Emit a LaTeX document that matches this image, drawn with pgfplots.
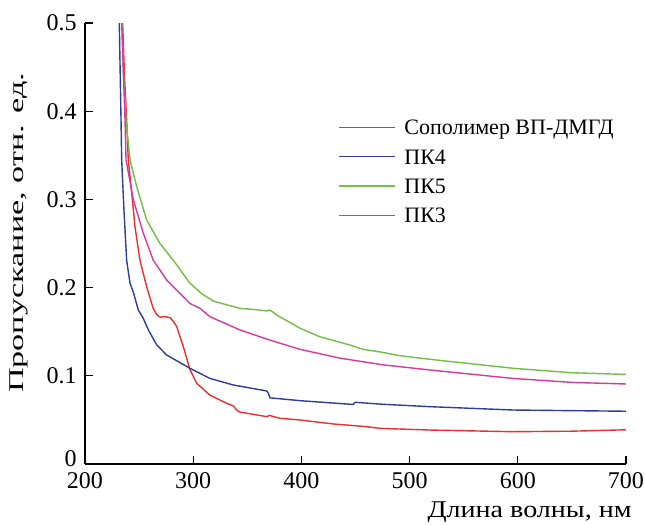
\documentclass[border=0pt]{standalone}
\usepackage{fontspec}
\setmainfont{Liberation Serif}
\usepackage{graphicx}
\usepackage{pgfplots}
\pgfplotsset{compat=1.18}
\definecolor{cred}{HTML}{E8302E}
\definecolor{cblue}{HTML}{2F3C98}
\definecolor{cgreen}{HTML}{72BF44}
\definecolor{cpink}{HTML}{D63A9C}
\begin{document}
\begin{tikzpicture}
\path[use as bounding box] (-42.5pt,-30.5pt) rectangle (280pt,232pt);
\begin{axis}[
  scale only axis,
  width=270.5pt, height=220.5pt,
  xmin=200, xmax=700, ymin=0, ymax=0.5,
  axis lines=left,
  axis line style={-, line width=0.6pt, black},
  tick style={line width=0.6pt, black},
  tick align=inside,
  major tick length=4pt,
  xtick={200,300,400,500,600,700},
  ytick={0.1,0.2,0.3,0.4,0.5},
  extra y ticks={0},
  extra y tick style={yticklabel style={yshift=2.5pt}},
  /pgf/number format/assume math mode=true,
  /pgf/number format/fixed,
  ticklabel style={font=\fontsize{12}{14}\selectfont, inner sep=0pt},
  yticklabel shift=4pt,
  xticklabel shift=4.2pt,
  xlabel={\resizebox{102pt}{\height}{Длина волны, нм}},
  xlabel style={at={(rel axis cs:1,0)}, anchor=base east, inner sep=0pt, xshift=3pt, yshift=-27pt, font=\fontsize{12}{14}\selectfont},
  ylabel={\resizebox{160pt}{\height}{Пропускание, отн. ед.}},
  ylabel style={at={(rel axis cs:0,0.524)}, anchor=center, inner sep=0pt, yshift=33pt, font=\fontsize{10.5}{12}\selectfont},
  legend style={at={(rel axis cs:0.4677,0.787)}, anchor=north west, draw=none, fill=none,
    inner sep=0pt, outer sep=0pt, row sep=4.15pt, column sep=4.5pt,
    font=\fontsize{11}{13}\selectfont,
    nodes={inner sep=0pt, text height=9pt, text depth=1.5pt}},
  legend cell align=left,
  legend image code/.code={\draw[#1, line width=0.7pt] (0pt,0pt) -- (28pt,0pt);},
  every axis plot/.append style={line width=0.7pt},
]
\addplot[cred] coordinates {
(234,0.55) (234.8,0.50) (236.5,0.44) (238.5,0.39) (240,0.345) (243.2,0.307)
(246.2,0.269) (250.8,0.231) (257,0.201) (263,0.1765) (266.5,0.169) (269.5,0.1665)
(274,0.167) (278.6,0.166) (281.5,0.162) (284.7,0.156) (290.9,0.133) (297,0.107)
(303.2,0.0915) (315.5,0.078) (331,0.0688) (337,0.066) (340.2,0.0612) (342.6,0.059)
(368,0.0537) (370.5,0.0552) (373.5,0.0540) (380.2,0.0518) (398.7,0.0499)
(429.5,0.0454) (460.3,0.0423) (472.6,0.0404) (518.8,0.0385) (595.8,0.0366)
(650,0.0372) (700.6,0.0388)};
\addlegendentry{Сополимер ВП-ДМГД}
\addplot[cblue] coordinates {
(231,0.55) (231.7,0.50) (233.3,0.39) (233.9,0.345) (236,0.288) (238.5,0.231)
(241.6,0.205) (244.6,0.195) (249.3,0.1746) (253.9,0.165) (259,0.151) (266.3,0.135)
(275.5,0.1236) (297,0.1085) (315.5,0.097) (337,0.0896) (368,0.0828) (369.5,0.080)
(371,0.075) (398.7,0.0718) (441.9,0.068) (448,0.0675) (449.5,0.0700) (475.4,0.0677)
(518.8,0.065) (595.8,0.0612) (700.6,0.0598)};
\addlegendentry{ПК4}
\addplot[cgreen] coordinates {
(233.5,0.55) (234.2,0.50) (235.4,0.4467) (237.9,0.39) (241.6,0.345) (247.8,0.3144)
(257,0.2766) (269.3,0.250) (281.6,0.231) (297,0.205) (308,0.193) (319,0.1845)
(343.2,0.1765) (358,0.175) (368,0.1735) (370.5,0.1745) (374,0.172) (377,0.169)
(398.7,0.154) (417,0.1443) (444.6,0.135) (457,0.130) (473,0.127) (491,0.1228)
(518.8,0.1187) (595.8,0.1085) (650,0.1035) (700.6,0.1015)};
\addlegendentry{ПК5}
\addplot[cpink] coordinates {
(233.2,0.55) (233.9,0.50) (237,0.39) (237.9,0.345) (244.6,0.30) (253.9,0.2616)
(263.1,0.231) (275.5,0.2086) (297,0.182) (306.3,0.1765) (315.5,0.167) (343.2,0.152)
(370.5,0.1406) (398.7,0.130) (435.7,0.120) (475,0.1125) (518.8,0.1066)
(595.8,0.097) (650,0.0925) (700.6,0.0907)};
\addlegendentry{ПК3}
\end{axis}
\end{tikzpicture}
\end{document}
